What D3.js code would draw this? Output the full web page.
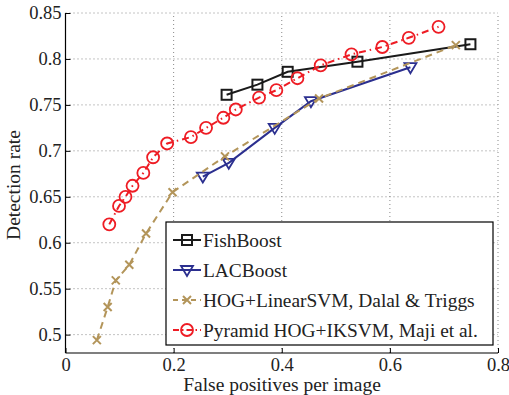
<!DOCTYPE html>
<html><head><meta charset="utf-8">
<script src="https://cdn.jsdelivr.net/npm/d3@7"></script>
<style>body{margin:0;background:#fff;} svg{display:block;}</style>
</head><body>
<svg id="c" width="509" height="395"></svg>
<script>
const xTicks = [0, 0.2, 0.4, 0.6, 0.8];
const yTicks = [0.5, 0.55, 0.6, 0.65, 0.7, 0.75, 0.8, 0.85];
const seriesNames = ["FishBoost", "LACBoost", "HOG+LinearSVM, Dalal & Triggs", "Pyramid HOG+IKSVM, Maji et al."];
const fishX = [0.298, 0.355, 0.411, 0.540, 0.749];
const fishY = [0.761, 0.772, 0.786, 0.797, 0.816];
const lacX = [0.254, 0.302, 0.387, 0.454, 0.638];
const lacY = [0.672, 0.687, 0.725, 0.754, 0.791];
const hogX = [0.058, 0.078, 0.093, 0.118, 0.149, 0.198, 0.295, 0.469, 0.722];
const hogY = [0.494, 0.530, 0.559, 0.576, 0.610, 0.655, 0.694, 0.757, 0.815];
const pyrX = [0.081, 0.099, 0.111, 0.124, 0.144, 0.162, 0.188, 0.232, 0.260, 0.292, 0.315, 0.358, 0.390, 0.429, 0.472, 0.529, 0.586, 0.635, 0.690];
const pyrY = [0.620, 0.640, 0.650, 0.662, 0.676, 0.693, 0.708, 0.715, 0.725, 0.736, 0.745, 0.758, 0.766, 0.779, 0.793, 0.805, 0.813, 0.823, 0.835];
const xLabel = "False positives per image";
const yLabel = "Detection rate";

const svg = d3.select("#c");
const L = 65.5, R = 498, T = 13, B = 353;
const x = d3.scaleLinear().domain([0, 0.8]).range([L, R]);
const y = d3.scaleLinear().domain([0.48, 0.85]).range([B, T]);
const font = "Liberation Serif, DejaVu Serif, Times New Roman, serif";

// grid
const g = svg.append("g");
g.selectAll(".gx").data(xTicks.filter(d => d > 0)).enter().append("line")
  .attr("x1", d => x(d)).attr("x2", d => x(d)).attr("y1", B).attr("y2", T)
  .attr("stroke", "#888").attr("stroke-width", 1).attr("stroke-dasharray", "1,3");
g.selectAll(".gy").data(yTicks).enter().append("line")
  .attr("x1", L).attr("x2", R).attr("y1", d => y(d)).attr("y2", d => y(d))
  .attr("stroke", "#888").attr("stroke-width", 1).attr("stroke-dasharray", "1,3");

// axes
const xAxis = d3.axisBottom(x).tickValues(xTicks).tickFormat(d => d3.format("")(d)).tickSizeInner(-5).tickSizeOuter(0).tickPadding(5);
const yAxis = d3.axisLeft(y).tickValues(yTicks).tickFormat(d => d3.format("")(d)).tickSizeInner(-5).tickSizeOuter(0).tickPadding(4);
const gx = svg.append("g").attr("transform", `translate(0,${B})`).call(xAxis);
const gy = svg.append("g").attr("transform", `translate(${L},0)`).call(yAxis);
[gx, gy].forEach(a => {
  a.select(".domain").attr("stroke", "#000").attr("stroke-width", 1.2);
  a.selectAll(".tick line").attr("stroke", "#000");
  a.selectAll(".tick text").style("font-family", font).style("font-size", "18.5px").attr("fill", "#222");
});
gy.select(".domain").attr("d", `M0,${B}V${T}`);
gx.select(".domain").attr("d", `M${L},0H${R}`);

svg.append("text").attr("x", 282).attr("y", 391).attr("text-anchor", "middle")
  .style("font-family", font).style("font-size", "19.5px").attr("fill", "#222").text(xLabel);
svg.append("text").attr("transform", `translate(20,${(T + B) / 2 + 2}) rotate(-90)`).attr("text-anchor", "middle")
  .style("font-family", font).style("font-size", "19.5px").attr("fill", "#222").text(yLabel);

const series = [
  {name: seriesNames[0], xs: fishX, ys: fishY, color: "#1a1a1a", dash: null, marker: "square"},
  {name: seriesNames[1], xs: lacX, ys: lacY, color: "#2b2f8f", dash: null, marker: "tri"},
  {name: seriesNames[2], xs: hogX, ys: hogY, color: "#b3955a", dash: "7,5", marker: "x"},
  {name: seriesNames[3], xs: pyrX, ys: pyrY, color: "#ee1c24", dash: "7,4,1.5,4", marker: "circle"}
];

function drawMarker(sel, type, color) {
  if (type === "square") {
    sel.append("rect").attr("x", -5).attr("y", -5).attr("width", 10).attr("height", 10)
      .attr("fill", "none").attr("stroke", color).attr("stroke-width", 2);
  } else if (type === "tri") {
    sel.append("path").attr("d", "M-6,-4L6,-4L0,6Z").attr("fill", "none").attr("stroke", color).attr("stroke-width", 1.8);
  } else if (type === "x") {
    sel.append("path").attr("d", "M-4,-4L4,4M-4,4L4,-4").attr("fill", "none").attr("stroke", color).attr("stroke-width", 2);
  } else {
    sel.append("circle").attr("r", 6).attr("fill", "none").attr("stroke", color).attr("stroke-width", 1.8);
  }
}

const line = d3.line().x(d => x(d[0])).y(d => y(d[1]));
series.forEach(s => {
  const pts = s.xs.map((v, i) => [v, s.ys[i]]);
  svg.append("path").datum(pts).attr("d", line).attr("fill", "none")
    .attr("stroke", s.color).attr("stroke-width", 2).attr("stroke-dasharray", s.dash);
  pts.forEach(p => {
    const m = svg.append("g").attr("transform", `translate(${x(p[0])},${y(p[1])})`);
    drawMarker(m, s.marker, s.color);
  });
});

// legend
const lg = svg.append("g");
lg.append("rect").attr("x", 166).attr("y", 222).attr("width", 327).attr("height", 123)
  .attr("fill", "#fff").attr("stroke", "#000").attr("stroke-width", 1.2);
series.forEach((s, i) => {
  const cy = 240 + i * 30;
  lg.append("line").attr("x1", 173).attr("x2", 201).attr("y1", cy).attr("y2", cy)
    .attr("stroke", s.color).attr("stroke-width", 2).attr("stroke-dasharray", s.dash ? (s.marker === "x" ? "5,4" : "6,3,1.5,3") : null);
  const m = lg.append("g").attr("transform", `translate(187,${cy})`);
  drawMarker(m, s.marker, s.color);
  lg.append("text").attr("x", 203).attr("y", cy + 7).style("font-family", font).style("font-size", "19.4px")
    .attr("fill", "#222").text(s.name);
});
</script>
</body></html>
